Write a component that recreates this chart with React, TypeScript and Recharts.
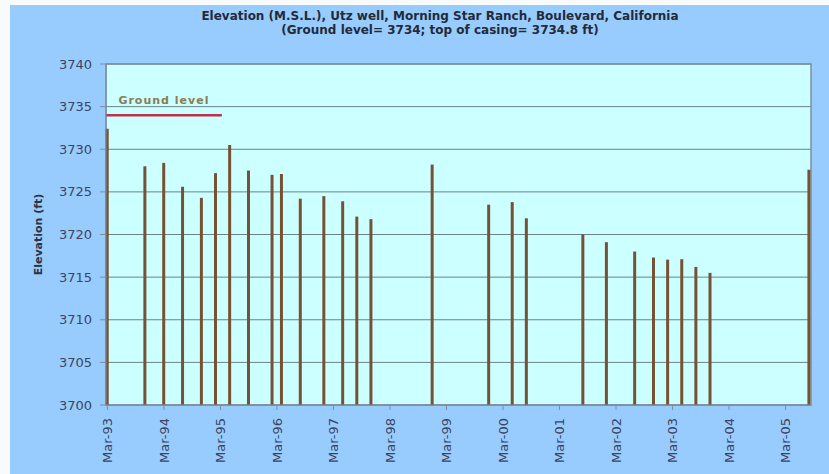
import React from "react";
import {
  Bar,
  BarChart,
  CartesianGrid,
  ReferenceArea,
  ReferenceLine,
  XAxis,
  YAxis,
} from "recharts";

// sample dates (year-month) and measured water elevation, ft above M.S.L.
const sampleMonths = [
  "1993-03", "1993-11", "1994-03", "1994-07", "1994-11", "1995-02", "1995-05",
  "1995-09", "1996-02", "1996-04", "1996-08", "1997-01", "1997-05", "1997-08",
  "1997-11", "1998-12", "1999-12", "2000-05", "2000-08", "2001-08", "2002-01",
  "2002-07", "2002-11", "2003-02", "2003-05", "2003-08", "2003-11", "2005-08",
];
const elevationFt = [
  3732.4, 3728.0, 3728.4, 3725.6, 3724.3, 3727.2, 3730.5,
  3727.5, 3727.0, 3727.1, 3724.2, 3724.5, 3723.9, 3722.1,
  3721.8, 3728.2, 3723.5, 3723.8, 3721.9, 3720.0, 3719.1,
  3718.0, 3717.3, 3717.05, 3717.1, 3716.2, 3715.5, 3727.6,
];
const xTickLabels = [
  "Mar-93", "Mar-94", "Mar-95", "Mar-96", "Mar-97", "Mar-98", "Mar-99",
  "Mar-00", "Mar-01", "Mar-02", "Mar-03", "Mar-04", "Mar-05",
];
const yTicks = [3700, 3705, 3710, 3715, 3720, 3725, 3730, 3735, 3740];
const groundLevelFt = 3734;
const groundLineEnd = "1995-03";
const axisEnd = "2005-08";

// months since Mar 1993
const toMonth = (s: string) => {
  const [y, m] = s.split("-").map(Number);
  return (y - 1993) * 12 + (m - 3);
};

const data = sampleMonths.map((d, i) => ({ m: toMonth(d), elev: elevationFt[i] }));
const xTicks = xTickLabels.map((_, i) => i * 12);
const xMax = toMonth(axisEnd) + 0.4;

const font = "DejaVu Sans";

const MonthTick = (props: any) => {
  const { x, y, payload } = props;
  return (
    <text
      x={x}
      y={y}
      transform={`rotate(-90 ${x} ${y})`}
      textAnchor="end"
      dy="0.36em"
      fill="#3b4460"
      fontSize={13}
      fontFamily={font}
    >
      {xTickLabels[Math.round(payload.value / 12)]}
    </text>
  );
};

export default function App() {
  return (
    <div
      style={{
        position: "absolute",
        left: 0,
        top: 0,
        width: 829,
        height: 474,
        background: "#f7fbfc",
        overflow: "hidden",
      }}
    >
      <div
        style={{
          position: "absolute",
          left: 10,
          top: 5,
          width: 819,
          height: 469,
          background: "#99ccfe",
        }}
      >
        <BarChart
          width={819}
          height={469}
          data={data}
          margin={{ top: 59, right: 18, left: 16, bottom: 19 }}
          barSize={3}
        >
          <CartesianGrid
            vertical={false}
            fill="#ccffff"
            stroke="#6a8486"
            strokeWidth={1}
          />
          <XAxis
            dataKey="m"
            type="number"
            domain={[-0.3, xMax]}
            ticks={xTicks}
            interval={0}
            tickSize={5}
            tickMargin={8}
            height={50}
            stroke="#7d8e9c"
            tick={<MonthTick />}
          />
          <YAxis
            domain={[3700, 3740]}
            ticks={yTicks}
            interval={0}
            width={80}
            tickSize={6}
            tickMargin={8}
            stroke="#7d8e9c"
            tick={{ fill: "#3b4460", fontSize: 13, fontFamily: font }}
            label={{
              value: "Elevation (ft)",
              angle: -90,
              position: "insideLeft",
              offset: 12,
              style: {
                textAnchor: "middle",
                fontFamily: font,
                fontWeight: "bold",
                fontSize: 11,
                fill: "#2c3344",
              },
            }}
          />
          <ReferenceArea
            x1={-0.3}
            x2={xMax}
            y1={3700}
            y2={3740}
            fill="none"
            stroke="#7d8e9c"
            strokeWidth={1.5}
            ifOverflow="visible"
          />
          <ReferenceLine
            segment={[
              { x: -0.3, y: groundLevelFt },
              { x: toMonth(groundLineEnd) + 0.3, y: groundLevelFt },
            ]}
            stroke="#b9334f"
            strokeWidth={2.5}
            label={{
              value: "Ground level",
              position: "top",
              offset: 11,
              style: {
                fontFamily: font,
                fontWeight: "bold",
                fontSize: 11,
                letterSpacing: 1,
                fill: "#8a7d52",
              },
            }}
          />
          <Bar dataKey="elev" fill="#765234" isAnimationActive={false} />
        </BarChart>
      </div>
      <div
        style={{
          position: "absolute",
          left: 40,
          top: 9,
          width: 800,
          textAlign: "center",
          fontFamily: font,
          fontWeight: "bold",
          fontSize: 12,
          lineHeight: "14px",
          color: "#232a38",
        }}
      >
        <div>Elevation (M.S.L.), Utz well, Morning Star Ranch, Boulevard, California</div>
        <div>(Ground level= 3734; top of casing= 3734.8 ft)</div>
      </div>
    </div>
  );
}
